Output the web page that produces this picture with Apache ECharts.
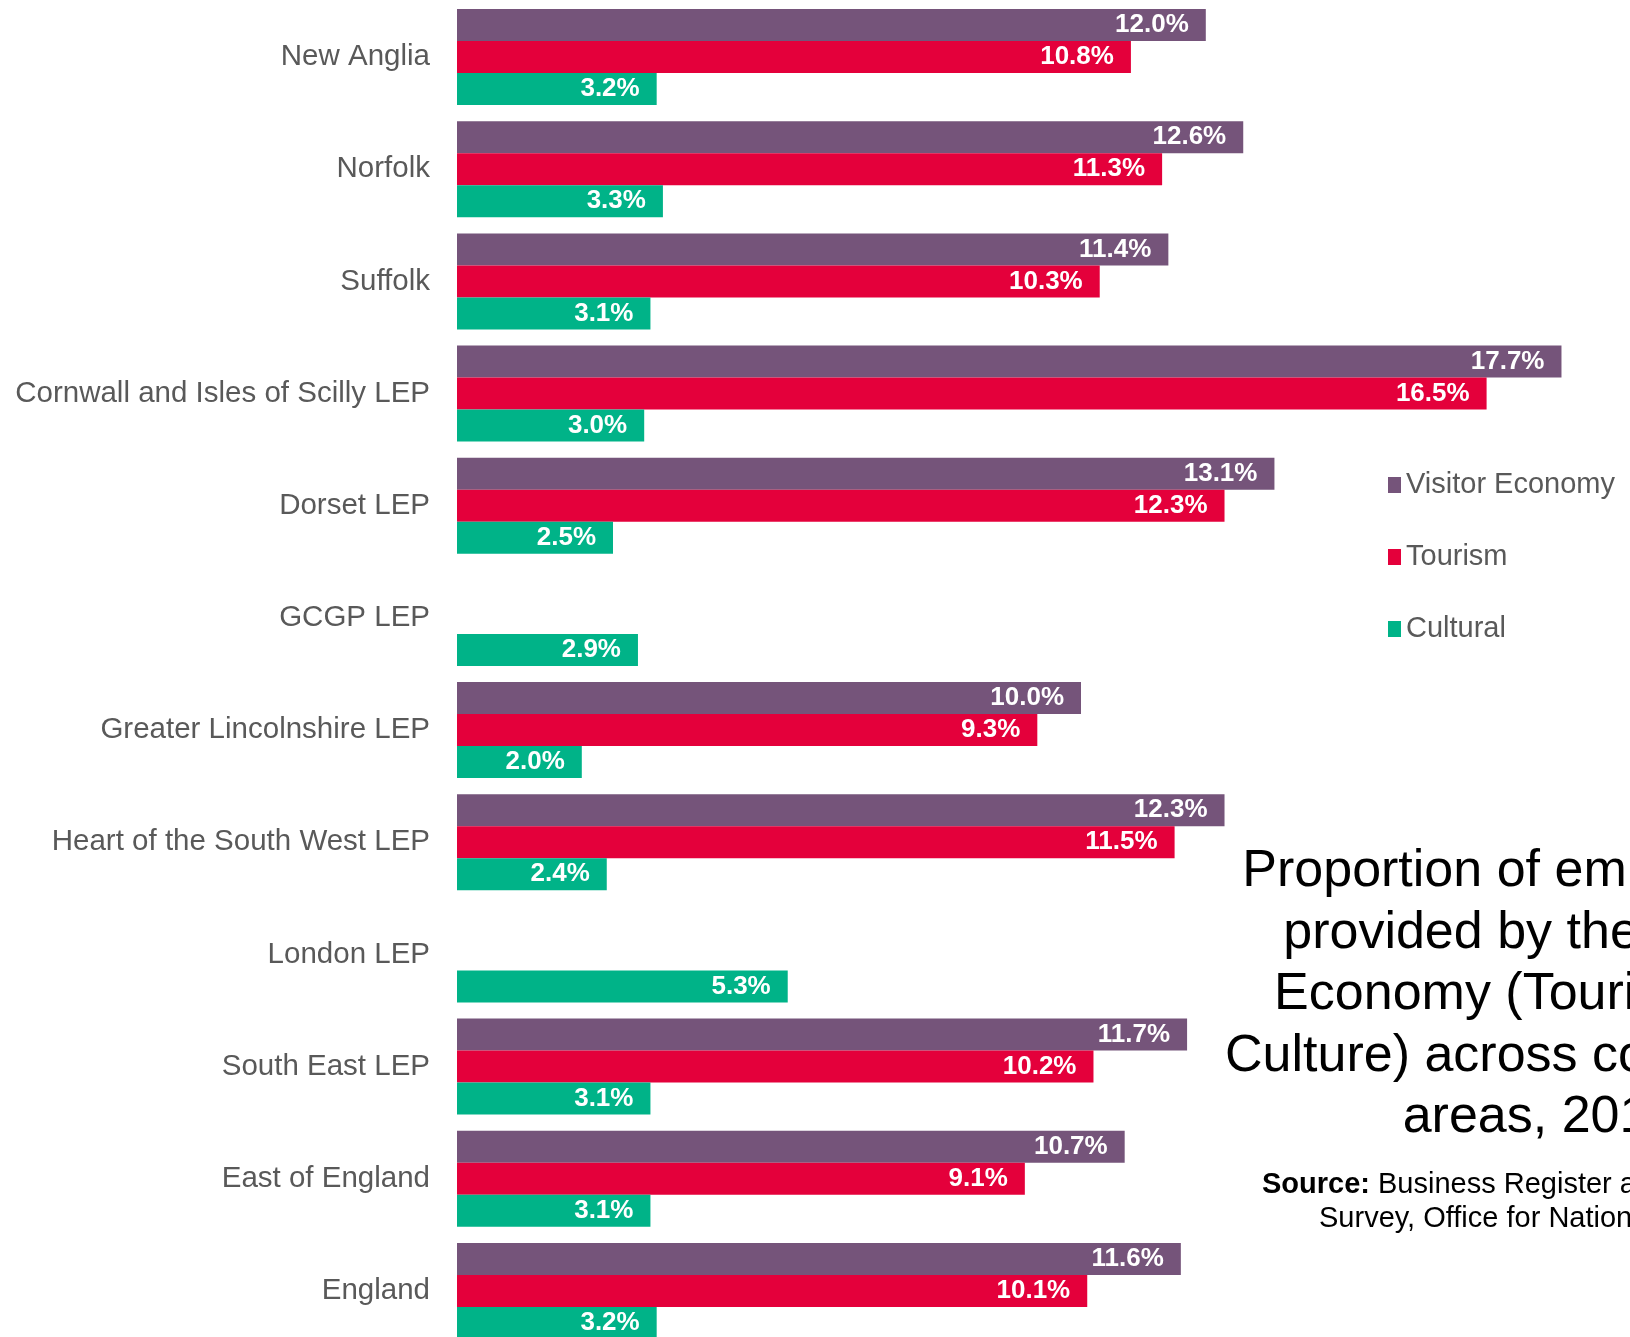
<!DOCTYPE html>
<html>
<head>
<meta charset="utf-8">
<script src="https://cdn.jsdelivr.net/npm/echarts@6/dist/echarts.min.js"></script>
<style>
html,body{margin:0;padding:0;background:#fff;overflow:hidden;width:1630px;height:1337px;}
#chart{width:1720px;height:1350px;}
</style>
</head>
<body>
<div id="chart"></div>
<script>
const categories = ['New Anglia','Norfolk','Suffolk','Cornwall and Isles of Scilly LEP','Dorset LEP','GCGP LEP','Greater Lincolnshire LEP','Heart of the South West LEP','London LEP','South East LEP','East of England','England'];
const visitorEconomy = [12.0, 12.6, 11.4, 17.7, 13.1, null, 10.0, 12.3, null, 11.7, 10.7, 11.6];
const tourism = [10.8, 11.3, 10.3, 16.5, 12.3, null, 9.3, 11.5, null, 10.2, 9.1, 10.1];
const cultural = [3.2, 3.3, 3.1, 3.0, 2.5, 2.9, 2.0, 2.4, 5.3, 3.1, 3.1, 3.2];
const seriesNames = ['Visitor Economy','Tourism','Cultural'];
const titleText = 'Proportion of employment\nprovided by the Visitor\nEconomy (Tourism and\nCulture) across comparator\nareas, 2017';
const sourceLine1 = 'Business Register and Employment';
const sourceLine2 = 'Survey, Office for National Statistics';

const FONT = '"Liberation Sans", Arial, Helvetica, sans-serif';
const colors = ['#75547A','#E4003B','#00B388'];

const labelOpt = {
  show: true,
  position: 'insideRight',
  distance: 17,
  color: '#fff',
  fontWeight: 'bold',
  fontSize: 26,
  fontFamily: FONT,
  formatter: p => (p.value == null ? '' : p.value.toFixed(1) + '%')
};

function mkSeries(name, data, color) {
  return {
    name: name,
    type: 'bar',
    data: data,
    barWidth: 32,
    barGap: '0%',
    itemStyle: { color: color },
    label: labelOpt,
    emphasis: { disabled: true }
  };
}

const chart = echarts.init(document.getElementById('chart'), null, { renderer: 'canvas' });
chart.setOption({
  animation: false,
  backgroundColor: '#fff',
  title: {
    text: titleText,
    left: 1540,
    top: 841,
    textAlign: 'center',
    padding: 0,
    textStyle: { fontSize: 52, lineHeight: 61.5, fontWeight: 'normal', color: '#000', fontFamily: FONT }
  },
  legend: {
    orient: 'vertical',
    left: 1388,
    top: 470,
    icon: 'rect',
    itemWidth: 13,
    itemHeight: 16,
    itemGap: 42,
    itemTextGap: 9,
    padding: 0,
    data: seriesNames,
    textStyle: { fontSize: 29, lineHeight: 30, color: '#595959', fontFamily: FONT }
  },
  grid: { left: 457, top: 1, width: 1248, height: 1346, containLabel: false },
  xAxis: {
    type: 'value',
    min: 0,
    max: 20,
    show: false,
    splitLine: { show: false }
  },
  yAxis: {
    type: 'category',
    data: categories,
    inverse: true,
    axisLine: { show: false },
    axisTick: { show: false },
    axisLabel: { margin: 27, fontSize: 29.5, color: '#595959', fontFamily: FONT }
  },
  series: [
    mkSeries(seriesNames[0], visitorEconomy, colors[0]),
    mkSeries(seriesNames[1], tourism, colors[1]),
    mkSeries(seriesNames[2], cultural, colors[2])
  ],
  graphic: [
    {
      type: 'text',
      left: 1262,
      top: 1170,
      style: {
        text: '{b|Source:} ' + sourceLine1,
        font: '29px ' + FONT,
        fill: '#000',
        rich: { b: { fontWeight: 'bold', fontSize: 29, fontFamily: FONT, fill: '#000' } }
      }
    },
    {
      type: 'text',
      left: 1319,
      top: 1204,
      style: { text: sourceLine2, font: '29px ' + FONT, fill: '#000' }
    }
  ]
});
</script>
</body>
</html>
